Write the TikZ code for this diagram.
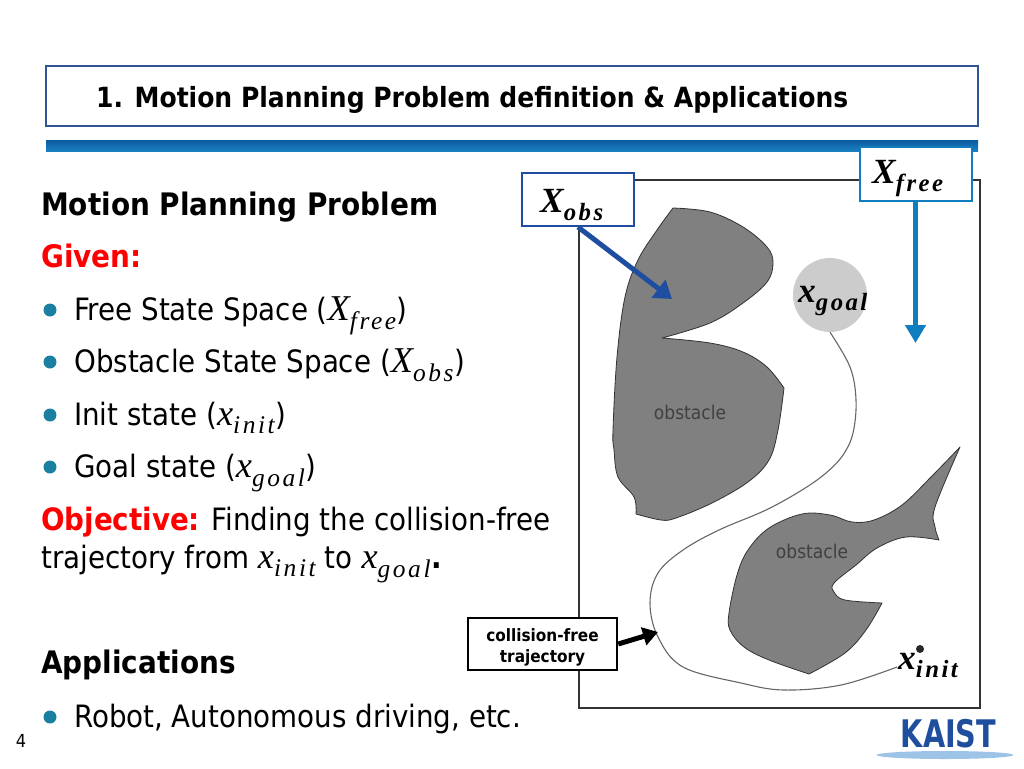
\documentclass[tikz,border=0pt]{standalone}
\usepackage{fontspec}
\setmainfont{DejaVu Sans Condensed}
\newfontfamily\statefont[Scale = 1.18, LetterSpace = 10]{Liberation Serif}
\usetikzlibrary{arrows.meta,shapes.geometric}

\newcommand{\stname}[2]{{\statefont\itshape #1\textsubscript{#2}}}

\definecolor{titleblue}{HTML}{2F5597}
\definecolor{obsblue}{HTML}{1F4EA1}
\definecolor{freeblue}{HTML}{0F7DBF}
\definecolor{dotteal}{HTML}{1A7FA0}
\definecolor{kaistblue}{HTML}{1F4E9E}
\definecolor{kaistsky}{HTML}{9DC3E6}
\definecolor{bartop}{HTML}{0C5AA0}
\definecolor{barlow}{HTML}{1A80BE}

\tikzset{
    head/.style = {anchor = base west, font = \fontsize{27.8}{34}\selectfont\bfseries},
    bighead/.style = {anchor = base west, font = \fontsize{31}{38}\selectfont\bfseries},
    line/.style = {anchor = base west, font = \fontsize{30.8}{36}\selectfont},
    redline/.style = {line, text = red, font = \fontsize{31}{36}\selectfont\bfseries},
    dot/.style = {circle, fill = dotteal, inner sep = 0, minimum size = 13},
    statebox/.style = {draw, fill = white, line width = 2pt, inner sep = 0, minimum width = 112, minimum height = 53},
    statelabel/.style = {anchor = base west, inner sep = 0, font = \fontsize{30}{36}\selectfont\bfseries},
    obstaclename/.style = {text = black!75, font = \fontsize{19}{24}\selectfont},
    obstacleshape/.style = {fill = gray, draw = black!80, line width = 0.8pt, line join = round},
}

\begin{document}
\begin{tikzpicture}[x = 1pt, y = -1pt, inner sep = 0]
\useasboundingbox (0,0) rectangle (1024,768);

% title
\node (t1) [draw = titleblue, line width = 2.5pt, minimum width = 932, minimum height = 60] at (512,96) {};
\node (t2) [head] at (96,107) {1. Motion Planning Problem definition \& Applications};
\shade [top color = bartop, bottom color = barlow] (46,140) rectangle (978,151);

% left text
\node (l1) [bighead] at (41,215) {Motion Planning Problem};
\node (l2) [redline] at (41,267) {Given:};
\node (d1) [dot] at (50,310) {};
\node (l3) [line] at (74,320) {Free State Space (\stname{X}{free})};
\node (d2) [dot] at (50,362) {};
\node (l4) [line] at (74,372) {Obstacle State Space (\stname{X}{obs})};
\node (d3) [dot] at (50,415) {};
\node (l5) [line] at (74,425) {Init state (\stname{x}{init})};
\node (d4) [dot] at (50,467) {};
\node (l6) [line] at (74,477) {Goal state (\stname{x}{goal})};
\node (l7) [line] at (41,530) {\textcolor{red}{\bfseries Objective:} Finding the collision-free};
\node (l8) [line] at (41,568) {trajectory from \stname{x}{init} to \stname{x}{goal}\textbf{.}};
\node (l9) [bighead] at (41,673) {Applications};
\node (d5) [dot] at (50,717) {};
\node (l10) [line] at (74,727) {Robot, Autonomous driving, etc.};
\node (n1) [font = \fontsize{18}{22}\selectfont] at (21,741) {4};

% workspace
\draw [black!80, line width = 2.5pt] (579,180) rectangle (980,708);

\draw [obstacleshape]
    plot [smooth, tension = 0.6] coordinates {(673,208) (710,212) (743,227) (767,247) (773,263) (767,282) (743,303) (710,323) (662,338)}
    -- plot [smooth, tension = 0.6] coordinates {(662,338) (710,343) (743,352) (767,367) (784,388)}
    -- plot [smooth, tension = 0.6] coordinates {(784,388) (778,430) (769,460) (748,482) (712,503) (676,518) (661,520) (636,514)}
    -- plot [smooth, tension = 0.6] coordinates {(636,514) (634,497) (618,477) (614,450) (613,430) (617,357) (625,297) (638,260) (657,230) (673,208)}
    -- cycle;

\draw [obstacleshape]
    plot [smooth, tension = 0.6] coordinates {(960,447) (935,507) (935,527) (939,540)}
    -- plot [smooth, tension = 0.6] coordinates {(939,540) (906,537) (877,548) (856,565) (834,583) (834,592) (845,600) (882,603)}
    -- plot [smooth, tension = 0.6] coordinates {(882,603) (866,630) (845,653) (809,674)}
    -- plot [smooth, tension = 0.6] coordinates {(809,674) (769,660) (744,647) (730,630) (729,613) (737,575) (748,550) (769,528) (802,514) (830,515) (852,522) (874,520) (902,505) (931,477) (960,447)}
    -- cycle;

\node (o1) [obstaclename] at (690,412) {obstacle};
\node (o2) [obstaclename] at (812,551) {obstacle};

\node (g1) [circle, fill = black!20, minimum size = 74] at (830,295) {};
\node (i1) [circle, fill = black!85, minimum size = 8] at (920,649) {};
\coordinate (i2) at (897,667);
\draw [black!60, line width = 1.1pt] plot [smooth, tension = 0.6] coordinates {(g1.south) (850,367) (856,400) (853,433) (843,455) (826,473) (802,490) (766,510) (719,530) (683,550) (658,573) (650,603) (658,637) (683,667) (741,683) (784,690) (841,685) (i2)};

\node (x1) [statelabel] at (798,302) {\stname{x}{goal}};
\node (x2) [statelabel] at (898,669) {\stname{x}{init}};

% boxes and arrows
\node (b1) [statebox, draw = obsblue] at (578,199.5) {};
\node (b2) [statebox, draw = freeblue, minimum height = 54] at (915.5,174) {};
\node (b3) [draw, fill = white, line width = 2.5pt, minimum width = 149, minimum height = 52] at (542.5,644) {};
\node (b4) [align = center, font = \fontsize{17}{21}\selectfont\bfseries] at (542.5,647) {collision-free\\trajectory};
\node (x3) [statelabel] at (540,212) {\stname{X}{obs}};
\node (x4) [statelabel] at (872,183) {\stname{X}{free}};

\coordinate (e1) at (672,299);
\coordinate (e2) at (915.5,343);
\coordinate (e3) at (658,632);
\draw [obsblue, line width = 5pt, -{Triangle[length = 17pt, width = 22pt]}] (b1.south) -- (e1);
\draw [freeblue, line width = 5pt, -{Triangle[length = 18pt, width = 20pt]}] (b2.south) -- (e2);
\draw [black, line width = 5pt, -{Triangle[length = 15pt, width = 18pt]}] (b3.east) -- (e3);

% logo
\node (k1) [ellipse, fill = kaistsky, minimum width = 137, minimum height = 8] at (945,755) {};
\node (k2) [text = kaistblue, xscale = 0.84, transform shape, font = \fontsize{38}{40}\selectfont\bfseries] at (948.5,734) {KAIST};
\end{tikzpicture}
\end{document}
